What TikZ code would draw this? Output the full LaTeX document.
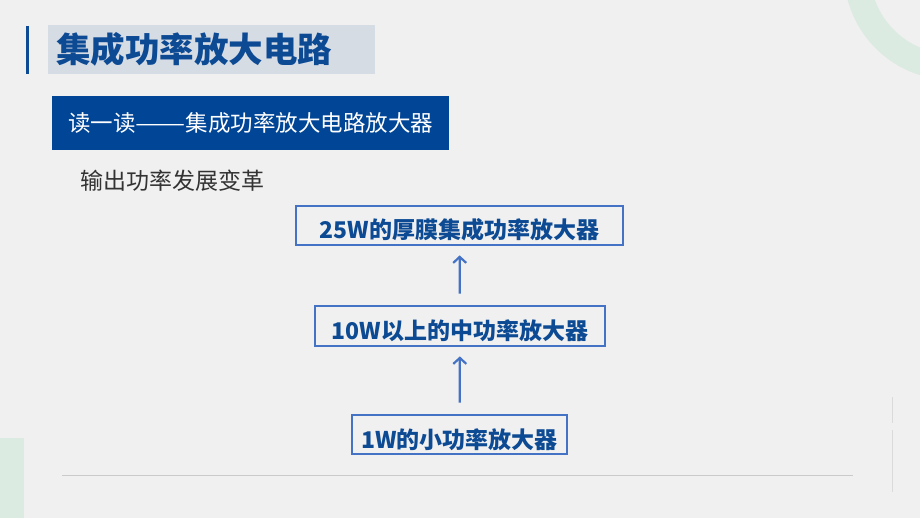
\documentclass[tikz,border=0pt]{standalone}
\usepackage{fontspec}
\usepackage{graphicx}
\setmainfont{Noto Sans CJK SC}
\usetikzlibrary{arrows.meta,positioning}
\definecolor{pagebg}{HTML}{F0F0F0}
\definecolor{titleblue}{HTML}{0D4A94}
\definecolor{titlegray}{HTML}{D6DCE4}
\definecolor{bandblue}{HTML}{004596}
\definecolor{frameblue}{HTML}{4472C4}
\definecolor{softgreen}{HTML}{DCEBE1}
\definecolor{rulegray}{HTML}{CACACA}
\definecolor{bodygray}{HTML}{333333}
\begin{document}
\begin{tikzpicture}[x=1pt,y=-1pt,
  stagebox/.style={rectangle,draw=frameblue,line width=2.8pt,inner ysep=0pt,
    text height=27pt,text depth=0pt,text=titleblue,
    font=\fontsize{23}{23}\selectfont\bfseries},
  uparrow/.style={draw=frameblue,line width=2.2pt,
    -{Straight Barb[length=6pt,width=13pt]},shorten <=11pt,shorten >=9pt}]
  \useasboundingbox (0,0) rectangle (920,518);
  \fill[pagebg] (0,0) rectangle (920,518);
  \begin{scope}
    \clip (0,0) rectangle (920,518);
    \draw[softgreen,line width=26pt] (952,-28) circle (95pt);
  \end{scope}
  \fill[softgreen] (0,438) rectangle (24,518);
  \draw[rulegray,line width=1pt] (62,475) -- (853,475);
  \draw[rulegray!70,line width=1pt] (892,397) -- (892,423) (892,430) -- (892,492);

  \draw[titleblue,line width=3pt] (27,26) -- (27,74);
  \node[fill=titlegray,minimum height=49pt,text width=311pt,inner xsep=8pt,align=left,
    text=titleblue,font=\fontsize{34.5}{34.5}\selectfont\bfseries] (title) at (211.5,49.5) {集成功率放大电路};
  \node[fill=bandblue,minimum height=54pt,text width=365pt,inner xsep=16pt,align=left,
    text=white,font=\fontsize{22.5}{22.5}\selectfont] (band) at (250.5,123) {读一读\scalebox{1.33}[1]{——}集成功率放大电路放大器};
  \node[anchor=west,inner sep=0pt,text=bodygray,font=\fontsize{23}{23}\selectfont] (trend) at (80,181) {输出功率发展变革};

  \node[stagebox,minimum width=327pt,minimum height=39pt] (thick) at (459.5,225.5) {25W的厚膜集成功率放大器};
  \node[stagebox,minimum width=290pt,minimum height=40pt] (medium) at (460,326) {10W以上的中功率放大器};
  \node[stagebox,minimum width=215pt,minimum height=39pt] (small) at (459.5,434.5) {1W的小功率放大器};

  \draw[uparrow] (small) -- (medium);
  \draw[uparrow] (medium) -- (thick);
\end{tikzpicture}
\end{document}
